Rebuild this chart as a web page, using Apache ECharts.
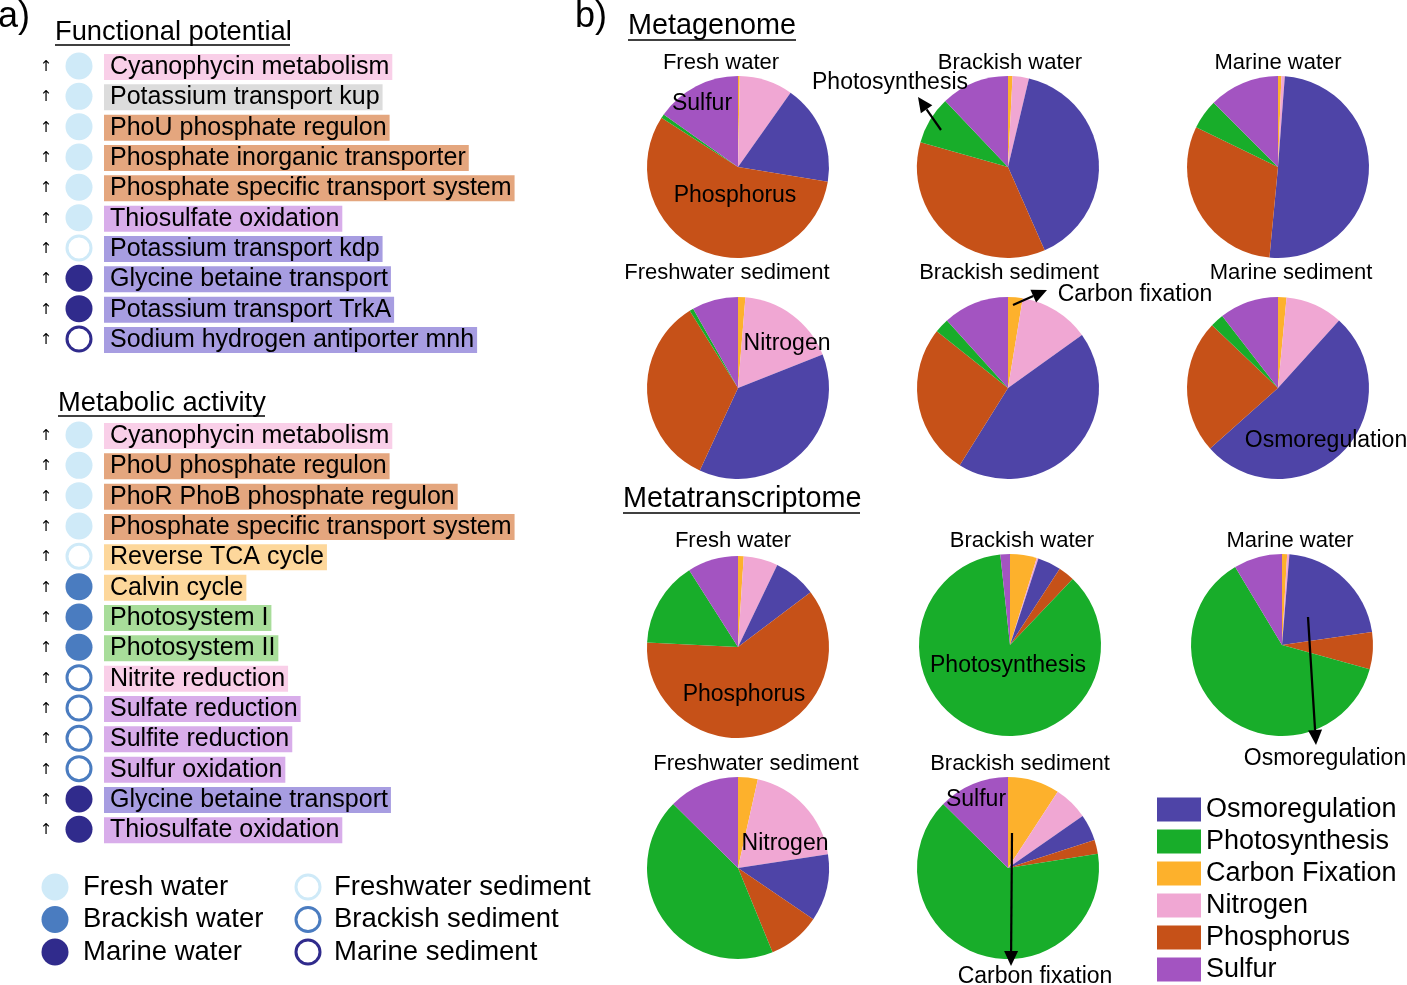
<!DOCTYPE html>
<html>
<head>
<meta charset="utf-8">
<script src="https://cdn.jsdelivr.net/npm/echarts@6/dist/echarts.min.js"></script>
<style>
html,body{margin:0;padding:0;background:#fff;}
#chart{width:1407px;height:985px;}
</style>
</head>
<body>
<div id="chart"></div>
<script>
// ---------- DATA ----------
// Slice order (clockwise from 12 o'clock)
const categories = ['Carbon Fixation', 'Nitrogen', 'Osmoregulation', 'Phosphorus', 'Photosynthesis', 'Sulfur'];
const legendOrder = ['Osmoregulation', 'Photosynthesis', 'Carbon Fixation', 'Nitrogen', 'Phosphorus', 'Sulfur'];
const habitats = ['Fresh water', 'Brackish water', 'Marine water', 'Freshwater sediment', 'Brackish sediment', 'Marine sediment'];

// Metagenome (% per category, order = categories)
const mgFreshWater        = [0.3, 9.5, 17.8, 56.5, 0.7, 15.2];
const mgBrackishWater     = [0.8, 2.9, 39.7, 36.0, 8.5, 12.1];
const mgMarineWater       = [0.6, 0.6, 50.3, 30.7, 5.3, 12.5];
const mgFreshSediment     = [1.3, 17.7, 37.9, 34.2, 0.7, 8.2];
const mgBrackishSediment  = [2.6, 12.5, 43.8, 26.8, 2.6, 11.7];
const mgMarineSediment    = [1.5, 10.2, 51.7, 23.7, 2.4, 10.5];
// Metatranscriptome
const mtFreshWater        = [1.0, 6.1, 7.6, 61.1, 15.2, 9.0];
const mtBrackishWater     = [4.75, 0.3, 4.15, 2.9, 86.2, 1.7];
const mtMarineWater       = [0.9, 0.4, 21.4, 6.6, 62.1, 8.6];
const mtFreshSediment     = [3.5, 19.1, 11.9, 9.3, 43.6, 12.6];
const mtBrackishSediment  = [9.2, 6.1, 4.7, 2.5, 64.9, 12.6];

// Panel a) lists
const functionalItems = ['Cyanophycin metabolism', 'Potassium transport kup', 'PhoU phosphate regulon',
  'Phosphate inorganic transporter', 'Phosphate specific transport system', 'Thiosulfate oxidation',
  'Potassium transport kdp', 'Glycine betaine transport', 'Potassium transport TrkA', 'Sodium hydrogen antiporter mnh'];
const functionalGroups = ['nitrogen', 'potassium', 'phosphorus', 'phosphorus', 'phosphorus', 'sulfur',
  'osmo', 'osmo', 'osmo', 'osmo'];
const functionalHabitats = ['Fresh water', 'Fresh water', 'Fresh water', 'Fresh water', 'Fresh water', 'Fresh water',
  'Freshwater sediment', 'Marine water', 'Marine water', 'Marine sediment'];

const metabolicItems = ['Cyanophycin metabolism', 'PhoU phosphate regulon', 'PhoR PhoB phosphate regulon',
  'Phosphate specific transport system', 'Reverse TCA cycle', 'Calvin cycle', 'Photosystem I', 'Photosystem II',
  'Nitrite reduction', 'Sulfate reduction', 'Sulfite reduction', 'Sulfur oxidation',
  'Glycine betaine transport', 'Thiosulfate oxidation'];
const metabolicGroups = ['nitrogen', 'phosphorus', 'phosphorus', 'phosphorus', 'carbon', 'carbon', 'photo', 'photo',
  'nitrogen', 'sulfur', 'sulfur', 'sulfur', 'osmo', 'sulfur'];
const metabolicHabitats = ['Fresh water', 'Fresh water', 'Fresh water', 'Fresh water', 'Freshwater sediment',
  'Brackish water', 'Brackish water', 'Brackish water', 'Brackish sediment', 'Brackish sediment',
  'Brackish sediment', 'Brackish sediment', 'Marine water', 'Marine water'];

// ---------- STYLE / LAYOUT ----------
const FONT = '"Liberation Sans", Arial, Helvetica, sans-serif';
const sliceColors = {
  'Osmoregulation': '#4e44a7', 'Photosynthesis': '#18ad2a', 'Carbon Fixation': '#fdb12c',
  'Nitrogen': '#f0a7d3', 'Phosphorus': '#c65118', 'Sulfur': '#a354c1'
};
const groupColors = {
  nitrogen: '#f9cfe8', potassium: '#dcdcdc', phosphorus: '#e4a67e', sulfur: '#d8adea',
  osmo: '#a79de1', carbon: '#fdd79b', photo: '#a8dd9a'
};
const habitatStyle = {
  'Fresh water': {fill: '#cfeaf8', ring: false, c: '#cfeaf8'},
  'Brackish water': {fill: '#4a7cc0', ring: false, c: '#4a7cc0'},
  'Marine water': {fill: '#302b8c', ring: false, c: '#302b8c'},
  'Freshwater sediment': {ring: true, c: '#cfeaf8'},
  'Brackish sediment': {ring: true, c: '#4a7cc0'},
  'Marine sediment': {ring: true, c: '#302b8c'}
};

const pies = [
  {vals: mgFreshWater, c: [738, 167], title: [721, 63]},
  {vals: mgBrackishWater, c: [1008, 167], title: [1010, 63]},
  {vals: mgMarineWater, c: [1278, 167], title: [1278, 63]},
  {vals: mgFreshSediment, c: [738, 388], title: [727, 273]},
  {vals: mgBrackishSediment, c: [1008, 388], title: [1009, 273]},
  {vals: mgMarineSediment, c: [1278, 388], title: [1291, 273]},
  {vals: mtFreshWater, c: [738, 647], title: [733, 541]},
  {vals: mtBrackishWater, c: [1010, 645], title: [1022, 541]},
  {vals: mtMarineWater, c: [1282, 645], title: [1290, 541]},
  {vals: mtFreshSediment, c: [738, 868], title: [756, 764]},
  {vals: mtBrackishSediment, c: [1008, 868], title: [1020, 764]}
];
const pieTitles = [habitats[0], habitats[1], habitats[2], habitats[3], habitats[4], habitats[5],
  habitats[0], habitats[1], habitats[2], habitats[3], habitats[4]];

// ---------- BUILD ----------
const graphics = [];
function txt(s, x, y, size, opts) {
  opts = opts || {};
  graphics.push({
    type: 'text', z: 100, x: x, y: y,
    style: Object.assign({
      text: s, fill: '#000', font: (opts.weight || 'normal') + ' ' + size + 'px ' + (opts.family || FONT),
      textAlign: opts.align || 'left', textVerticalAlign: 'middle'
    }, opts.style || {})
  });
}
function line(x1, y1, x2, y2, w, color) {
  graphics.push({type: 'line', z: 100, shape: {x1, y1, x2, y2}, style: {stroke: color || '#000', lineWidth: w}});
}
function arrow(x1, y1, x2, y2) {
  const dx = x2 - x1, dy = y2 - y1, L = Math.sqrt(dx * dx + dy * dy);
  const ux = dx / L, uy = dy / L, hl = 15, hw = 7;
  const bx = x2 - ux * hl, by = y2 - uy * hl;
  line(x1, y1, bx, by, 2.2);
  graphics.push({type: 'polygon', z: 100, shape: {points: [[x2, y2], [bx - uy * hw, by + ux * hw], [bx + uy * hw, by - ux * hw]]},
    style: {fill: '#000'}});
}
function marker(habitat, cx, cy, r) {
  const s = habitatStyle[habitat];
  if (s.ring) {
    graphics.push({type: 'circle', z: 100, shape: {cx, cy, r: r - 1.5}, style: {fill: '#fff', stroke: s.c, lineWidth: 3}});
  } else {
    graphics.push({type: 'circle', z: 100, shape: {cx, cy, r}, style: {fill: s.fill}});
  }
}

// Panel labels and headings
txt('a)', -2, 17, 36);
txt('b)', 575, 17, 36);
txt('Functional potential', 55, 32, 27.3);
line(55, 45, 290, 45, 1.6);
txt('Metabolic activity', 58, 403, 27.3);
line(58, 416, 265, 416, 1.6);
txt('Metagenome', 628, 26, 28.8);
line(628, 40, 796, 40, 1.6);
txt('Metatranscriptome', 623, 499, 28.8);
line(623, 513, 860, 513, 1.6);

function list(items, groups, habs, y0) {
  items.forEach((name, i) => {
    const y = y0 + i * 30.33;
    txt('↑', 46, y + 1, 15, {align: 'center', family: '"DejaVu Sans", sans-serif'});
    marker(habs[i], 79, y, 13.5);
    txt(name, 104, y + 1, 25, {style: {backgroundColor: groupColors[groups[i]], padding: [1, 3, 0, 6]}});
  });
}
list(functionalItems, functionalGroups, functionalHabitats, 66);
list(metabolicItems, metabolicGroups, metabolicHabitats, 435);

// habitat legend (panel a)
[0, 1, 2].forEach(i => {
  const y = 887 + i * 32.5;
  marker(habitats[i], 55, y, 13.5);
  txt(habitats[i], 83, y, 27.5);
  marker(habitats[i + 3], 308, y, 13.5);
  txt(habitats[i + 3], 334, y, 27.5);
});

// pie titles
pies.forEach((p, i) => txt(pieTitles[i], p.title[0], p.title[1], 22, {align: 'center'}));

// pie annotations
const A = 23;
txt('Sulfur', 702, 104, A, {align: 'center'});
txt('Phosphorus', 735, 196, A, {align: 'center'});
txt('Photosynthesis', 890, 83, A, {align: 'center'});
arrow(941, 130, 918, 97);
txt('Carbon fixation', 1135, 295, A, {align: 'center'});
arrow(1013, 305, 1047, 290);
txt('Nitrogen', 787, 344, A, {align: 'center'});
txt('Osmoregulation', 1326, 441, A, {align: 'center'});
txt('Phosphorus', 744, 695, A, {align: 'center'});
txt('Photosynthesis', 1008, 666, A, {align: 'center'});
txt('Osmoregulation', 1325, 759, A, {align: 'center'});
arrow(1308, 617, 1316, 745);
txt('Nitrogen', 785, 844, A, {align: 'center'});
txt('Sulfur', 976, 800, A, {align: 'center'});
arrow(1012, 833, 1011, 966);
txt('Carbon fixation', 1035, 977, A, {align: 'center'});

const series = pies.map(p => ({
  type: 'pie', center: p.c, radius: 91, startAngle: 90, clockwise: true,
  silent: true, animation: false, avoidLabelOverlap: false, minAngle: 0,
  label: {show: false}, labelLine: {show: false}, emphasis: {disabled: true},
  data: categories.map((c, i) => ({name: c, value: p.vals[i], itemStyle: {color: sliceColors[c]}}))
}));

const chart = echarts.init(document.getElementById('chart'), null, {renderer: 'canvas'});
chart.setOption({
  backgroundColor: '#fff',
  animation: false,
  legend: {
    data: legendOrder, orient: 'vertical', left: 1157, top: 796, height: 400, padding: 0,
    itemWidth: 44, itemHeight: 24, itemGap: 5, icon: 'rect', selectedMode: false,
    textStyle: {fontSize: 27, color: '#000', fontFamily: FONT}
  },
  series: series,
  graphic: graphics
});
</script>
</body>
</html>
